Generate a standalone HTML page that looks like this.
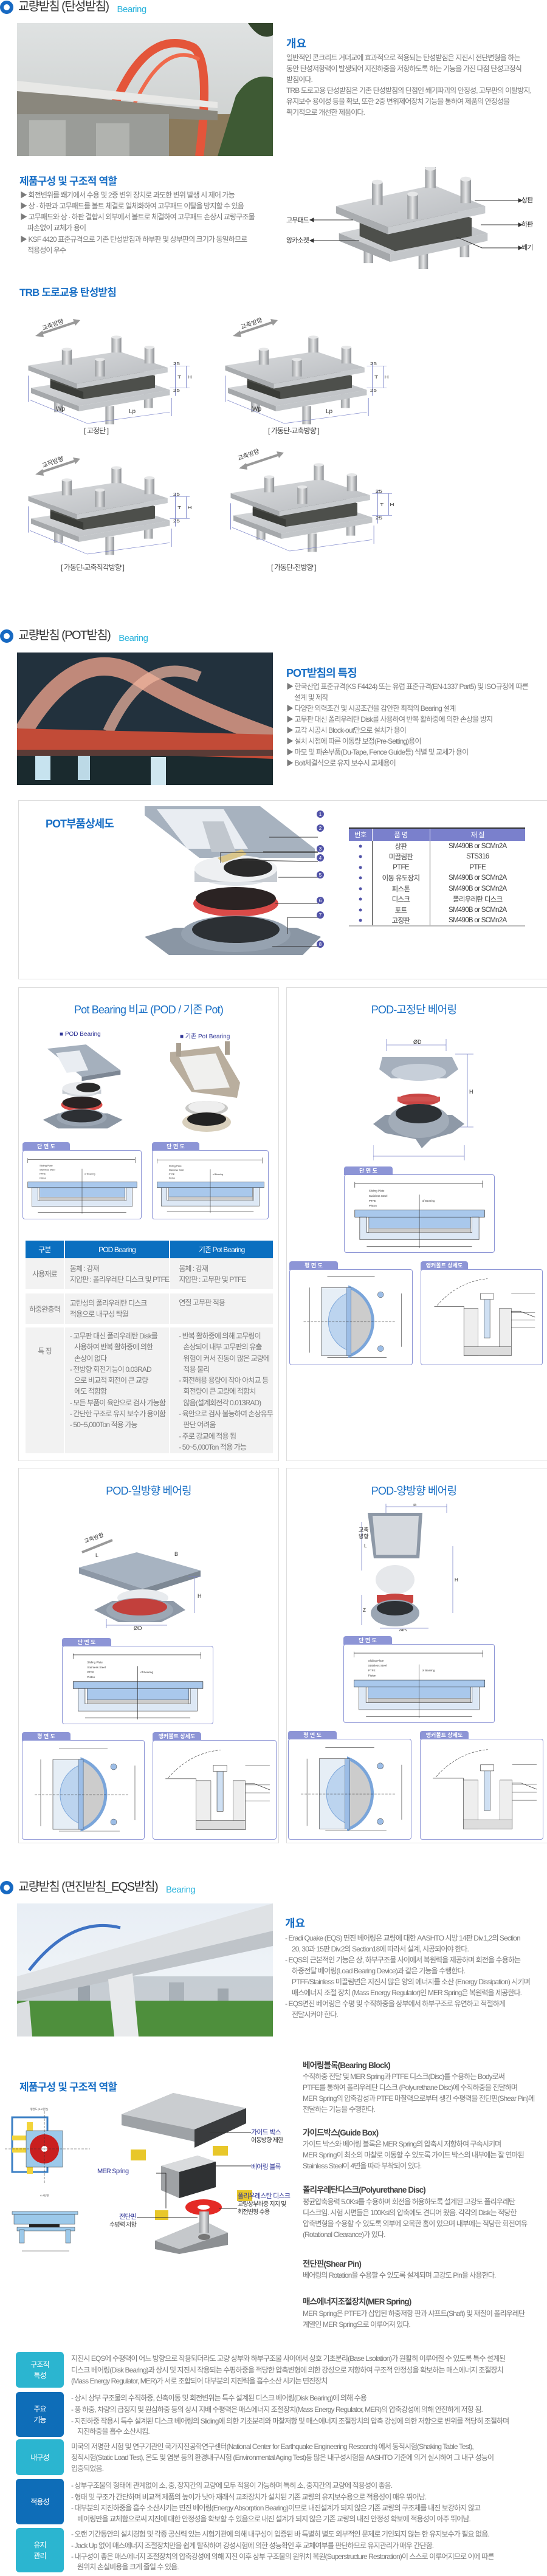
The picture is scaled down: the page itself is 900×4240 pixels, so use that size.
<!DOCTYPE html>
<html><head><meta charset="utf-8">
<style>
*{margin:0;padding:0;box-sizing:border-box}
html,body{width:900px;height:4240px;background:#fff;overflow:hidden;position:relative}
body{font-family:"Liberation Sans","Noto Sans CJK KR",sans-serif;color:#777}
.a{position:absolute;white-space:nowrap}
.t{font-size:12px;letter-spacing:-0.9px;color:#7a7a7a;line-height:14px}
.h1{font-size:20px;letter-spacing:-1.6px;color:#333;line-height:24px}
.bg{font-size:15px;color:#2ab3dc;letter-spacing:-0.5px;margin-left:14px;vertical-align:-3px}
.ico{width:22px;height:22px;border-radius:50%;border:6px solid #1769c2;background:#fff}
.h2{font-size:17px;font-weight:bold;color:#1a70c6;letter-spacing:-0.8px}
.h3{font-size:18px;color:#1a70c6;letter-spacing:-0.8px}
.h4{font-size:13.5px;color:#444;letter-spacing:-0.9px;font-weight:bold}
.box{position:absolute;border:1px solid #ddd;background:#fff}
.tab{position:absolute;height:14px;background:#8d95d6;color:#fff;font-size:9px;font-weight:bold;text-align:center;line-height:14px;border-radius:4px 4px 0 0;letter-spacing:0}
.dbox{position:absolute;border:1px solid #8d95d6;border-radius:4px;background:#fff}
.lab{position:absolute;font-size:12px;letter-spacing:-0.9px;color:#fff;text-align:center;border-radius:6px;display:flex;align-items:center;justify-content:center;line-height:18px}
table{border-collapse:collapse}
</style></head><body>
<svg width="0" height="0" style="position:absolute">
<defs>
<linearGradient id="plate" x1="0" y1="0" x2="1" y2="1"><stop offset="0" stop-color="#d9dbdd"/><stop offset="1" stop-color="#b8bbbf"/></linearGradient>
<linearGradient id="cyl" x1="0" y1="0" x2="1" y2="0"><stop offset="0" stop-color="#9a9da0"/><stop offset=".5" stop-color="#e4e5e6"/><stop offset="1" stop-color="#8d9094"/></linearGradient>
<symbol id="bear" viewBox="0 0 320 240">
<g>
<rect x="52" y="160" width="16" height="40" fill="url(#cyl)"/><rect x="145" y="185" width="16" height="45" fill="url(#cyl)"/><rect x="215" y="155" width="16" height="35" fill="url(#cyl)"/>
<polygon points="10,140 97,185 97,198 10,153" fill="#a5a8ab"/><polygon points="97,185 262,145 262,158 97,198" fill="#c3c6c9"/>
<polygon points="10,140 175,105 262,145 97,185" fill="url(#plate)"/>
<polygon points="45,108 175,80 235,110 235,140 105,168 45,140" fill="#4d4f4b"/>
<polygon points="45,140 105,168 105,150 45,122" fill="#3a3c38"/>
<polygon points="5,85 93,130 93,142 5,97" fill="#a9acaf"/><polygon points="93,130 258,90 258,102 93,142" fill="#c8cbce"/>
<polygon points="5,85 170,50 258,90 93,130" fill="url(#plate)"/>
<rect x="66" y="45" width="18" height="38" fill="url(#cyl)"/><ellipse cx="75" cy="45" rx="9" ry="4" fill="#e6e7e8"/>
<rect x="156" y="15" width="18" height="38" fill="url(#cyl)"/><ellipse cx="165" cy="15" rx="9" ry="4" fill="#e6e7e8"/>
<rect x="216" y="40" width="18" height="40" fill="url(#cyl)"/><ellipse cx="225" cy="40" rx="9" ry="4" fill="#e6e7e8"/>
<rect x="126" y="70" width="18" height="42" fill="url(#cyl)"/><ellipse cx="135" cy="70" rx="9" ry="4" fill="#e6e7e8"/>
</g>
<g stroke="#7b84c9" stroke-width="1" fill="none"><line x1="272" y1="78" x2="272" y2="160"/><line x1="292" y1="86" x2="292" y2="140"/><line x1="262" y1="86" x2="298" y2="86"/><line x1="262" y1="140" x2="298" y2="140"/><line x1="5" y1="110" x2="5" y2="175"/><line x1="265" y1="165" x2="265" y2="210"/><line x1="8" y1="170" x2="112" y2="228"/><line x1="112" y1="228" x2="262" y2="200"/></g>
<g font-size="11" fill="#333" font-family="Liberation Sans"><text x="268" y="84">25</text><text x="276" y="117">T</text><text x="294" y="117">H</text><text x="268" y="150">25</text></g>
</symbol>
<symbol id="bear2" viewBox="0 0 270 170">
<rect x="52" y="120" width="16" height="40" fill="url(#cyl)"/><rect x="145" y="135" width="16" height="35" fill="url(#cyl)"/><rect x="215" y="115" width="16" height="35" fill="url(#cyl)"/>
<polygon points="10,110 97,145 97,158 10,123" fill="#a5a8ab"/><polygon points="97,145 262,110 262,123 97,158" fill="#c3c6c9"/>
<polygon points="10,110 175,75 262,110 97,145" fill="url(#plate)"/>
<polygon points="45,88 175,60 235,85 235,115 105,140 45,115" fill="#4d4f4b"/>
<polygon points="5,65 93,100 93,112 5,77" fill="#a9acaf"/><polygon points="93,100 258,65 258,77 93,112" fill="#c8cbce"/>
<polygon points="5,65 170,30 258,65 93,100" fill="url(#plate)"/>
<rect x="66" y="25" width="18" height="38" fill="url(#cyl)"/><ellipse cx="75" cy="25" rx="9" ry="4" fill="#e6e7e8"/>
<rect x="156" y="0" width="18" height="35" fill="url(#cyl)"/><ellipse cx="165" cy="2" rx="9" ry="4" fill="#e6e7e8"/>
<rect x="216" y="20" width="18" height="40" fill="url(#cyl)"/><ellipse cx="225" cy="20" rx="9" ry="4" fill="#e6e7e8"/>
<rect x="126" y="45" width="18" height="42" fill="url(#cyl)"/><ellipse cx="135" cy="45" rx="9" ry="4" fill="#e6e7e8"/>
</symbol>
<symbol id="sect" viewBox="0 0 200 110">
<g stroke="#333" stroke-width=".6" fill="none"><line x1="8" y1="10" x2="8" y2="18"/><line x1="8" y1="12" x2="190" y2="12"/><line x1="190" y1="8" x2="190" y2="18"/><line x1="25" y1="102" x2="175" y2="102"/></g>
<rect x="8" y="50" width="185" height="10" fill="#a9c8ec" stroke="#333" stroke-width=".6"/>
<path d="M15 60 V92 H185 V60 H175 V82 H25 V60 Z" fill="#dde8f5" stroke="#333" stroke-width=".6"/>
<rect x="28" y="60" width="145" height="22" fill="#a9c8ec" stroke="#333" stroke-width=".5"/>
<rect x="28" y="76" width="145" height="6" fill="#ccc" stroke="#555" stroke-width=".3"/>
<line x1="100" y1="28" x2="100" y2="104" stroke="#333" stroke-width=".6"/>
<g font-size="4" fill="#333"><text x="28" y="24">Sliding Plate</text><text x="28" y="31">Stainless Steel</text><text x="28" y="38">PTFE</text><text x="28" y="45">Piston</text><text x="104" y="38">of Bearing</text></g>
</symbol>
<symbol id="plan" viewBox="0 0 200 160">
<g stroke="#333" stroke-width=".6" fill="none"><line x1="30" y1="30" x2="30" y2="140"/><line x1="185" y1="40" x2="185" y2="130"/><line x1="60" y1="148" x2="160" y2="148"/><line x1="60" y1="12" x2="140" y2="12"/></g>
<rect x="50" y="30" width="48" height="115" fill="#e6eef6" stroke="#333" stroke-width=".6"/>
<path d="M98 30 A62 62 0 0 1 98 145 Z" fill="#ccc" stroke="#7aa5da" stroke-width="5"/>
<path d="M98 38 A52 52 0 0 0 98 137 Z" fill="#bcd4ef" stroke="#7aa5da" stroke-width="1"/>
<rect x="92" y="30" width="8" height="115" fill="#9cbde6" stroke="#333" stroke-width=".4"/>
<circle cx="150" cy="42" r="5" fill="#9cbde6" stroke="#333" stroke-width=".5"/><circle cx="150" cy="133" r="5" fill="#9cbde6" stroke="#333" stroke-width=".5"/>
<line x1="20" y1="88" x2="175" y2="88" stroke="#333" stroke-width=".5" stroke-dasharray="4 2"/>
</symbol>
<symbol id="anch" viewBox="0 0 200 160">
<path d="M25 60 Q60 20 110 15" stroke="#333" stroke-width=".6" fill="none" stroke-dasharray="4 2"/>
<path d="M20 62 H70 V145 H150 V70 H165 L190 80" stroke="#333" stroke-width=".7" fill="none"/>
<rect x="70" y="65" width="24" height="80" fill="#eee" stroke="#333" stroke-width=".5"/><rect x="130" y="65" width="20" height="80" fill="#eee" stroke="#333" stroke-width=".5"/>
<rect x="70" y="130" width="80" height="15" fill="#ddd" stroke="#333" stroke-width=".5"/>
<rect x="104" y="45" width="10" height="70" fill="#cfe0f3" stroke="#333" stroke-width=".6"/>
<rect x="98" y="40" width="22" height="10" fill="#fff" stroke="#333" stroke-width=".6"/>
<g stroke="#333" stroke-width=".5"><line x1="150" y1="40" x2="190" y2="40"/><line x1="150" y1="72" x2="190" y2="72"/><line x1="150" y1="85" x2="190" y2="85"/><line x1="150" y1="98" x2="190" y2="98"/></g>
</symbol>
<symbol id="pot" viewBox="0 0 200 220">
<polygon points="20,20 110,10 190,70 100,85" fill="#a5b0bd"/><polygon points="100,85 190,70 190,80 100,95" fill="#7d8794"/>
<polygon points="40,30 95,24 115,70 65,76" fill="#e9edf2"/>
<ellipse cx="100" cy="115" rx="45" ry="17" fill="#d9dde2"/><rect x="55" y="115" width="90" height="10" fill="#c7ccd2"/><ellipse cx="100" cy="112" rx="45" ry="15" fill="#e9ebee"/><ellipse cx="115" cy="110" rx="28" ry="11" fill="#2b2b2b"/>
<ellipse cx="100" cy="150" rx="48" ry="16" fill="#d84b48"/><ellipse cx="100" cy="145" rx="45" ry="14" fill="#2a2222"/>
<polygon points="10,185 45,170 160,170 195,185 160,205 45,205" fill="#8c97a4"/><ellipse cx="100" cy="180" rx="58" ry="20" fill="#9aa5b2"/><ellipse cx="100" cy="176" rx="48" ry="15" fill="#2d3034"/>
</symbol>
</defs></svg>

<!-- ===== SECTION 1 ===== -->
<div class="a ico" style="left:0;top:1px"></div>
<div class="a h1" style="left:30px;top:-1px">교량받침 (탄성받침)<span class="bg">Bearing</span></div>
<svg class="a" style="left:28px;top:38px" width="421" height="219" viewBox="0 0 421 219">
<defs><linearGradient id="s1" x1="0" y1="0" x2="0" y2="1"><stop offset="0" stop-color="#dfe2e2"/><stop offset="1" stop-color="#c9cccb"/></linearGradient></defs>
<rect width="421" height="219" fill="url(#s1)"/>
<rect x="250" y="150" width="171" height="69" fill="#8b7a5c"/>
<path d="M330 219 L360 120 Q385 80 421 90 V219Z" fill="#3e5a34"/>
<path d="M380 0 Q400 30 421 20 V0Z" fill="#33452c"/>
<path d="M140 190 Q200 0 290 40 Q320 60 300 219" stroke="#e4553a" stroke-width="14" fill="none"/>
<path d="M170 190 Q230 20 300 60" stroke="#f06a4c" stroke-width="6" fill="none"/>
<polygon points="0,110 330,145 330,160 0,150" fill="#8a877d"/>
<rect x="0" y="150" width="250" height="69" fill="#9a9c98"/>
<rect x="20" y="160" width="60" height="59" fill="#b4b6b2"/><rect x="130" y="165" width="55" height="54" fill="#b1b3af"/>
<polygon points="0,95 330,130 330,140 0,112" fill="#e8e8e6"/>
</svg>
<div class="a" style="left:471px;top:58px;font-size:18px;font-weight:bold;color:#1a70c6">개요</div>
<div class="a t" style="left:471px;top:88px">일반적인 콘크리트 거더교에 효과적으로 적용되는 탄성받침은 지진시 전단변형을 하는</div>
<div class="a t" style="left:471px;top:106px">동안 탄성저항력이 발생되어 지진하중을 저항하도록 하는 기능을 가진 다점 탄성고정식</div>
<div class="a t" style="left:471px;top:124px">받침이다.</div>
<div class="a t" style="left:471px;top:142px">TRB 도로교용 탄성받침은 기존 탄성받침의 단점인 쐐기파괴의 안정성, 고무판의 이탈방지,</div>
<div class="a t" style="left:471px;top:160px">유지보수 용이성 등을 확보, 또한 2중 변위제어장치 기능을 통하여 제품의 안정성을</div>
<div class="a t" style="left:471px;top:178px">획기적으로 개선한 제품이다.</div>

<div class="a h2" style="left:32px;top:284px">제품구성 및 구조적 역할</div>
<div class="a t" style="left:33px;top:314px">▶ 회전변위를 쐐기에서 수용 및 2중 변위 장치로 과도한 변위 발생 시 제어 가능</div>
<div class="a t" style="left:33px;top:332px">▶ 상 · 하판과 고무패드를 볼트 체결로 일체화하여 고무패드 이탈을 방지할 수 있음</div>
<div class="a t" style="left:33px;top:350px">▶ 고무패드와 상 · 하판 결합시 외부에서 볼트로 체결하여 고무패드 손상시 교량구조물</div>
<div class="a t" style="left:45px;top:368px">파손없이 교체가 용이</div>
<div class="a t" style="left:33px;top:387px">▶ KSF 4420 표준규격으로 기존 탄성받침과 하부판 및 상부판의 크기가 동일하므로</div>
<div class="a t" style="left:45px;top:405px">적용성이 우수</div>
<svg class="a" style="left:548px;top:275px" width="262" height="168" viewBox="0 0 270 170" preserveAspectRatio="none"><use href="#bear2" xlink:href="#bear2"/></svg>
<svg class="a" style="left:471px;top:320px" width="429" height="95">
<g stroke="#333" stroke-width="1" fill="#333">
<line x1="310" y1="10" x2="382" y2="10"/><polygon points="382,7 388,10 382,13"/>
<line x1="320" y1="50" x2="382" y2="50"/><polygon points="382,47 388,50 382,53"/>
<line x1="280" y1="70" x2="322" y2="88"/><line x1="322" y1="88" x2="382" y2="88"/><polygon points="382,85 388,88 382,91"/>
<line x1="45" y1="42" x2="110" y2="42"/><polygon points="45,39 39,42 45,45"/>
<line x1="45" y1="76" x2="120" y2="76"/><polygon points="45,73 39,76 45,79"/>
</g></svg>
<div class="a t" style="left:858px;top:323px;color:#333;font-size:11px">상판</div>
<div class="a t" style="left:858px;top:363px;color:#333;font-size:11px">하판</div>
<div class="a t" style="left:858px;top:401px;color:#333;font-size:11px">쐐기</div>
<div class="a t" style="left:471px;top:356px;color:#333;font-size:11px">고무패드</div>
<div class="a t" style="left:471px;top:389px;color:#333;font-size:11px">앙카소켓</div>

<div class="a h2" style="left:32px;top:467px">TRB 도로교용 탄성받침</div>
<!-- row 1 -->
<svg class="a" style="left:42px;top:545px" width="290" height="160" viewBox="0 0 320 240" preserveAspectRatio="none"><use href="#bear" xlink:href="#bear"/></svg>
<svg class="a" style="left:366px;top:545px" width="290" height="160" viewBox="0 0 320 240" preserveAspectRatio="none"><use href="#bear" xlink:href="#bear"/></svg>
<svg class="a" style="left:40px;top:522px" width="100" height="35"><line x1="25" y1="28" x2="85" y2="8" stroke="#999" stroke-width="4"/><polygon points="18,31 30,22 32,33" fill="#999"/><polygon points="92,5 80,3 84,14" fill="#999"/></svg>
<svg class="a" style="left:365px;top:522px" width="100" height="35"><line x1="25" y1="28" x2="85" y2="8" stroke="#999" stroke-width="4"/><polygon points="18,31 30,22 32,33" fill="#999"/><polygon points="92,5 80,3 84,14" fill="#999"/></svg>
<div class="a" style="left:68px;top:526px;font-size:10px;color:#333;transform:rotate(-20deg)">교축방향</div>
<div class="a" style="left:395px;top:524px;font-size:10px;color:#333;transform:rotate(-20deg)">교축방향</div>
<div class="a" style="left:92px;top:668px;font-size:10px;color:#333">Wp</div><div class="a" style="left:212px;top:672px;font-size:10px;color:#333">Lp</div>
<div class="a" style="left:415px;top:668px;font-size:10px;color:#333">Wp</div><div class="a" style="left:536px;top:672px;font-size:10px;color:#333">Lp</div>
<div class="a t" style="left:138px;top:702px;color:#444">[ 고정단 ]</div>
<div class="a t" style="left:441px;top:702px;color:#444">[ 가동단-교축방향 ]</div>
<!-- row 2 -->
<svg class="a" style="left:42px;top:760px" width="290" height="160" viewBox="0 0 320 240" preserveAspectRatio="none"><use href="#bear" xlink:href="#bear"/></svg>
<svg class="a" style="left:375px;top:755px" width="290" height="160" viewBox="0 0 320 240" preserveAspectRatio="none"><use href="#bear" xlink:href="#bear"/></svg>
<svg class="a" style="left:40px;top:750px" width="100" height="35"><line x1="25" y1="28" x2="85" y2="8" stroke="#999" stroke-width="4"/><polygon points="18,31 30,22 32,33" fill="#999"/><polygon points="92,5 80,3 84,14" fill="#999"/></svg>
<svg class="a" style="left:375px;top:740px" width="100" height="35"><line x1="25" y1="28" x2="85" y2="8" stroke="#999" stroke-width="4"/><polygon points="18,31 30,22 32,33" fill="#999"/><polygon points="92,5 80,3 84,14" fill="#999"/></svg>
<div class="a" style="left:68px;top:752px;font-size:10px;color:#333;transform:rotate(-20deg)">교직방향</div>
<div class="a" style="left:390px;top:740px;font-size:10px;color:#333;transform:rotate(-20deg)">교축방향</div>
<div class="a t" style="left:100px;top:927px;color:#444">[ 가동단-교축직각방향 ]</div>
<div class="a t" style="left:446px;top:927px;color:#444">[ 가동단-전방향 ]</div>

<!-- ===== SECTION 2 ===== -->
<div class="a ico" style="left:0;top:1036px"></div>
<div class="a h1" style="left:30px;top:1034px">교량받침 (POT받침)<span class="bg">Bearing</span></div>
<svg class="a" style="left:28px;top:1074px" width="421" height="218" viewBox="0 0 421 218">
<rect width="421" height="218" fill="#22313d"/>
<rect y="150" width="421" height="68" fill="#1a2a2e"/>
<path d="M10 130 Q100 -20 200 40 Q280 90 421 140" stroke="#e9a08a" stroke-width="30" fill="none" opacity=".8"/>
<path d="M150 130 Q210 0 300 40" stroke="#f2b6a0" stroke-width="18" fill="none" opacity=".7"/>
<polygon points="0,125 421,135 421,175 0,160" fill="#c24b37"/>
<rect x="0" y="160" width="421" height="10" fill="#5a3b36"/>
<rect x="30" y="170" width="25" height="40" fill="#c7e3ef"/><rect x="100" y="170" width="20" height="40" fill="#bcd9e6"/><rect x="220" y="172" width="25" height="46" fill="#d0e7f0"/>
</svg>
<div class="a" style="left:471px;top:1094px;font-size:18px;font-weight:bold;color:#1a70c6;letter-spacing:-1px">POT받침의 특징</div>
<div class="a t" style="left:471px;top:1123px">▶ 한국산업 표준규격(KS F4424) 또는 유럽 표준규격(EN-1337 Part5) 및 ISO규정에 따른</div>
<div class="a t" style="left:484px;top:1141px">설계 및 제작</div>
<div class="a t" style="left:471px;top:1159px">▶ 다양한 외력조건 및 시공조건을 감안한 최적의 Bearing 설계</div>
<div class="a t" style="left:471px;top:1177px">▶ 고무판 대신 폴리우레탄 Disk를 사용하여 반복 활하중에 의한 손상을 방지</div>
<div class="a t" style="left:471px;top:1195px">▶ 교각 시공시 Block-out만으로 설치가 용이</div>
<div class="a t" style="left:471px;top:1213px">▶ 설치 시점에 따른 이동량 보정(Pre-Setting)용이</div>
<div class="a t" style="left:471px;top:1231px">▶ 마모 및 파손부품(Du-Tape, Fence Guide등) 식별 및 교체가 용이</div>
<div class="a t" style="left:471px;top:1249px">▶ Bolt체결식으로 유지 보수시 교체용이</div>

<div class="box" style="left:30px;top:1317px;width:880px;height:295px"></div>
<div class="a" style="left:75px;top:1342px;font-size:18px;font-weight:bold;color:#1a70c6;letter-spacing:-1px">POT부품상세도</div>
<svg class="a" style="left:238px;top:1322px" width="296" height="272" viewBox="0 0 296 272">
<polygon points="0,5 190,5 280,75 280,90 90,90 0,20" fill="#a7b2bf"/><polygon points="20,10 130,10 170,75 70,75" fill="#e9edf2"/><polygon points="95,30 130,30 150,80 110,80" fill="#c1c7ce"/>
<ellipse cx="150" cy="112" rx="68" ry="24" fill="#dfe3e8"/><rect x="82" y="112" width="136" height="18" fill="#c7ccd2"/><ellipse cx="150" cy="108" rx="68" ry="22" fill="#eef0f2"/><ellipse cx="170" cy="106" rx="40" ry="15" fill="#2a2a2a"/><polygon points="120,90 160,76 168,84 128,98" fill="#d9c58a"/>
<ellipse cx="150" cy="165" rx="70" ry="22" fill="#d94a48"/><ellipse cx="150" cy="157" rx="66" ry="19" fill="#2b2323"/>
<polygon points="0,220 50,205 250,205 290,220 260,250 40,250" fill="#8a96a4"/><ellipse cx="150" cy="215" rx="90" ry="30" fill="#96a2b0"/><ellipse cx="150" cy="208" rx="72" ry="22" fill="#2c3034"/>
<g stroke="#333" stroke-width="1"><line x1="205" y1="56" x2="285" y2="56"/><line x1="195" y1="80" x2="285" y2="80"/><line x1="125" y1="98" x2="125" y2="81"/><line x1="125" y1="81" x2="285" y2="81"/><line x1="160" y1="94" x2="285" y2="96"/><line x1="220" y1="122" x2="285" y2="122"/><line x1="215" y1="165" x2="285" y2="165"/><line x1="235" y1="188" x2="285" y2="188"/><line x1="235" y1="188" x2="235" y2="215"/><line x1="210" y1="236" x2="285" y2="236"/></g>
</svg>
<svg class="a" style="left:516px;top:1330px" width="20" height="270"><g fill="#5153a8">
<circle cx="11" cy="10" r="6"/><circle cx="11" cy="33" r="6"/><circle cx="11" cy="67" r="6"/><circle cx="11" cy="82" r="6"/><circle cx="11" cy="110" r="6"/><circle cx="11" cy="152" r="6"/><circle cx="11" cy="176" r="6"/><circle cx="11" cy="224" r="6"/></g>
<g fill="#fff" font-size="8" font-family="Liberation Sans" text-anchor="middle"><text x="11" y="13">1</text><text x="11" y="36">2</text><text x="11" y="70">3</text><text x="11" y="85">4</text><text x="11" y="113">5</text><text x="11" y="155">6</text><text x="11" y="179">7</text><text x="11" y="227">8</text></g></svg>
<table class="a" style="left:574px;top:1362px;width:290px;font-size:11.5px;letter-spacing:-0.7px;color:#444;text-align:center">
<tr style="background:#7a80cc;color:#fff;height:21px;border-top:2px solid #333"><td style="width:38px;border-right:1px solid #fff">번호</td><td style="width:95px;border-right:1px solid #fff">품 명</td><td>재 질</td></tr>
<tr style="height:17.5px"><td style="color:#5153a8;border-right:1px solid #333">●</td><td style="border-right:1px solid #333">상판</td><td>SM490B or SCMn2A</td></tr>
<tr style="height:17.5px"><td style="color:#5153a8;border-right:1px solid #333">●</td><td style="border-right:1px solid #333">미끌림판</td><td>STS316</td></tr>
<tr style="height:17.5px"><td style="color:#5153a8;border-right:1px solid #333">●</td><td style="border-right:1px solid #333">PTFE</td><td>PTFE</td></tr>
<tr style="height:17.5px"><td style="color:#5153a8;border-right:1px solid #333">●</td><td style="border-right:1px solid #333">이동 유도장치</td><td>SM490B or SCMn2A</td></tr>
<tr style="height:17.5px"><td style="color:#5153a8;border-right:1px solid #333">●</td><td style="border-right:1px solid #333">피스톤</td><td>SM490B or SCMn2A</td></tr>
<tr style="height:17.5px"><td style="color:#5153a8;border-right:1px solid #333">●</td><td style="border-right:1px solid #333">디스크</td><td>폴리우레탄 디스크</td></tr>
<tr style="height:17.5px"><td style="color:#5153a8;border-right:1px solid #333">●</td><td style="border-right:1px solid #333">포트</td><td>SM490B or SCMn2A</td></tr>
<tr style="height:17.5px;border-bottom:2px solid #bbb"><td style="color:#5153a8;border-right:1px solid #333">●</td><td style="border-right:1px solid #333">고정판</td><td>SM490B or SCMn2A</td></tr>
</table>

<!-- comparison box -->
<div class="box" style="left:30px;top:1625px;width:429px;height:780px"></div>
<div class="a h3" style="left:30px;width:429px;text-align:center;top:1648px">Pot Bearing 비교 (POD / 기존 Pot)</div>
<div class="a" style="left:98px;top:1697px;font-size:10px;color:#2f3596">■ POD Bearing</div>
<div class="a" style="left:296px;top:1697px;font-size:10px;color:#2f3596">■ 기존 Pot Bearing</div>
<svg class="a" style="left:62px;top:1712px" width="145" height="156"><use href="#pot" xlink:href="#pot" width="145" height="156"/></svg>
<svg class="a" style="left:270px;top:1712px" width="130" height="156" viewBox="0 0 130 156">
<polygon points="10,20 90,10 125,70 120,95 45,85 10,35" fill="#b9ae9e"/><polygon points="25,28 85,22 108,78 50,82" fill="#f0f0ee"/>
<rect x="20" y="5" width="8" height="22" fill="#a99f90"/><rect x="100" y="2" width="8" height="22" fill="#a99f90"/>
<ellipse cx="70" cy="112" rx="35" ry="12" fill="#c8c8c6"/><ellipse cx="70" cy="110" rx="30" ry="10" fill="#eee"/>
<ellipse cx="70" cy="135" rx="40" ry="16" fill="#d8cfbc"/><ellipse cx="70" cy="130" rx="32" ry="11" fill="#222"/>
</svg>
<div class="tab" style="left:37px;top:1880px;width:78px">단 면 도</div>
<div class="dbox" style="left:37px;top:1893px;width:196px;height:114px"><svg width="194" height="112"><use href="#sect" xlink:href="#sect" width="194" height="112"/></svg></div>
<div class="tab" style="left:250px;top:1880px;width:78px">단 면 도</div>
<div class="dbox" style="left:250px;top:1893px;width:192px;height:114px"><svg width="190" height="112"><use href="#sect" xlink:href="#sect" width="190" height="112"/></svg></div>

<table class="a" style="left:40px;top:2042px;width:411px;font-size:12px;letter-spacing:-0.9px;color:#7a7a7a;border-collapse:separate;border-spacing:2px 0">
<tr style="background:#0a6fc0;color:#fff;height:29px;text-align:center"><td style="width:68px">구분</td><td style="width:170px">POD Bearing</td><td>기존 Pot Bearing</td></tr>
<tr style="background:#f2f2f2;height:51px"><td style="text-align:center">사용재료</td><td style="padding-left:8px;line-height:18px">몸체 : 강재<br>지압판 : 폴리우레탄 디스크 및 PTFE</td><td style="padding-left:14px;line-height:18px">몸체 : 강재<br>지압판 : 고무판 및 PTFE</td></tr>
<tr style="height:7px"><td></td><td></td><td></td></tr>
<tr style="background:#f2f2f2;height:50px"><td style="text-align:center">하중완충력</td><td style="padding-left:8px;line-height:18px">고탄성의 폴리우레탄 디스크<br>적용으로 내구성 탁월</td><td style="padding-left:14px;line-height:18px;vertical-align:top;padding-top:6px">연질 고무판 적용</td></tr>
<tr style="height:6px"><td></td><td></td><td></td></tr>
<tr style="background:#f2f2f2;height:207px;vertical-align:top"><td style="text-align:center;padding-top:30px">특 징</td>
<td style="padding-left:8px;padding-top:5px;line-height:18.3px">- 고무판 대신 폴리우레탄 Disk를<br>&nbsp;&nbsp;&nbsp;사용하여 반복 활하중에 의한<br>&nbsp;&nbsp;&nbsp;손상이 없다<br>- 전방향 회전기능이 0.03RAD<br>&nbsp;&nbsp;&nbsp;으로 비교적 회전이 큰 교량<br>&nbsp;&nbsp;&nbsp;에도 적합함<br>- 모든 부품이 육안으로 검사 가능함<br>- 간단한 구조로 유지 보수가 용이함<br>- 50~5,000Ton 적용 가능</td>
<td style="padding-left:14px;padding-top:5px;line-height:18.3px">- 반복 활하중에 의해 고무링이<br>&nbsp;&nbsp;&nbsp;손상되어 내부 고무판의 유출<br>&nbsp;&nbsp;&nbsp;위험이 커서 진동이 많은 교량에<br>&nbsp;&nbsp;&nbsp;적용 불리<br>- 회전허용 용량이 작아 아치교 등<br>&nbsp;&nbsp;&nbsp;회전량이 큰 교량에 적합치<br>&nbsp;&nbsp;&nbsp;않음(설계회전각 0.013RAD)<br>- 육안으로 검사 불능하여 손상유무<br>&nbsp;&nbsp;&nbsp;판단 어려움<br>- 주로 강교에 적용 됨<br>- 50~5,000Ton 적용 가능</td></tr>
</table>

<!-- POD fixed -->
<div class="box" style="left:471px;top:1625px;width:440px;height:780px"></div>
<div class="a h3" style="left:471px;width:420px;text-align:center;top:1648px">POD-고정단 베어링</div>
<svg class="a" style="left:614px;top:1705px" width="170" height="205" viewBox="0 0 170 205">
<g stroke="#7b84c9" stroke-width=".8" fill="none"><line x1="22" y1="5" x2="22" y2="25"/><line x1="120" y1="5" x2="120" y2="25"/><line x1="22" y1="15" x2="120" y2="15"/><line x1="135" y1="30" x2="165" y2="30"/><line x1="155" y1="30" x2="155" y2="150"/><line x1="135" y1="150" x2="165" y2="150"/><line x1="0" y1="180" x2="0" y2="205"/><line x1="150" y1="180" x2="150" y2="205"/><line x1="0" y1="198" x2="150" y2="198"/></g>
<text x="66" y="13" font-size="9" fill="#333">ØD</text><text x="158" y="95" font-size="9" fill="#333">H</text><text x="72" y="212" font-size="9" fill="#333">Z</text>
<polygon points="15,35 130,35 140,55 120,70 30,70 10,55" fill="#a6b0bd"/><ellipse cx="75" cy="60" rx="45" ry="14" fill="#c7cfd9"/>
<ellipse cx="75" cy="105" rx="35" ry="10" fill="#c94544"/><rect x="40" y="100" width="70" height="8" fill="#d05250"/>
<polygon points="0,145 20,130 130,130 150,145 130,160 95,170 80,185 70,170 20,160" fill="#8e99a7"/><ellipse cx="75" cy="140" rx="50" ry="28" fill="#a2acb8"/><ellipse cx="75" cy="128" rx="38" ry="16" fill="#2c3034"/>
</svg>
<div class="tab" style="left:566px;top:1920px;width:80px">단 면 도</div>
<div class="dbox" style="left:566px;top:1933px;width:248px;height:129px"><svg width="246" height="127"><use href="#sect" xlink:href="#sect" width="246" height="127"/></svg></div>
<div class="tab" style="left:476px;top:2076px;width:80px">평 면 도</div>
<div class="dbox" style="left:476px;top:2089px;width:203px;height:158px"><svg width="201" height="156"><use href="#plan" xlink:href="#plan" width="201" height="156"/></svg></div>
<div class="tab" style="left:692px;top:2076px;width:78px">앵커볼트 상세도</div>
<div class="dbox" style="left:692px;top:2089px;width:201px;height:158px"><svg width="199" height="156"><use href="#anch" xlink:href="#anch" width="199" height="156"/></svg></div>

<!-- POD one-way -->
<div class="box" style="left:30px;top:2416px;width:429px;height:618px"></div>
<div class="a h3" style="left:30px;width:429px;text-align:center;top:2440px">POD-일방향 베어링</div>
<svg class="a" style="left:115px;top:2495px" width="235" height="190" viewBox="0 0 235 190">
<line x1="20" y1="60" x2="70" y2="40" stroke="#999" stroke-width="4"/>
<text x="25" y="45" font-size="9" fill="#333" transform="rotate(-20 25 45)">교축방향</text>
<polygon points="15,85 110,60 215,90 120,120" fill="#a7b3c1"/><polygon points="15,85 120,120 120,130 15,95" fill="#8d98a6"/><polygon points="120,120 215,90 215,100 120,130" fill="#7d8894"/>
<ellipse cx="120" cy="135" rx="42" ry="14" fill="#e8ebee"/>
<polygon points="40,155 70,140 170,140 190,155 150,175 80,175" fill="#8e99a7"/><ellipse cx="115" cy="155" rx="55" ry="20" fill="#9ca7b4"/><ellipse cx="115" cy="150" rx="45" ry="14" fill="#c2403c"/>
<g stroke="#7b84c9" stroke-width=".8" fill="none"><line x1="195" y1="100" x2="215" y2="100"/><line x1="205" y1="100" x2="205" y2="160"/><line x1="60" y1="170" x2="60" y2="185"/><line x1="60" y1="180" x2="160" y2="180"/></g>
<text x="42" y="68" font-size="9" fill="#333">L</text><text x="172" y="66" font-size="9" fill="#333">B</text><text x="210" y="135" font-size="9" fill="#333">H</text><text x="105" y="188" font-size="9" fill="#333">ØD</text>
</svg>
<div class="tab" style="left:102px;top:2696px;width:81px">단 면 도</div>
<div class="dbox" style="left:102px;top:2709px;width:249px;height:129px"><svg width="247" height="127"><use href="#sect" xlink:href="#sect" width="247" height="127"/></svg></div>
<div class="tab" style="left:36px;top:2851px;width:80px">평 면 도</div>
<div class="dbox" style="left:36px;top:2864px;width:202px;height:164px"><svg width="200" height="162"><use href="#plan" xlink:href="#plan" width="200" height="162"/></svg></div>
<div class="tab" style="left:251px;top:2851px;width:80px">앵커볼트 상세도</div>
<div class="dbox" style="left:251px;top:2864px;width:204px;height:164px"><svg width="202" height="162"><use href="#anch" xlink:href="#anch" width="202" height="162"/></svg></div>

<!-- POD two-way -->
<div class="box" style="left:471px;top:2416px;width:440px;height:618px"></div>
<div class="a h3" style="left:471px;width:420px;text-align:center;top:2440px">POD-양방향 베어링</div>
<svg class="a" style="left:585px;top:2475px" width="180" height="210" viewBox="0 0 180 210">
<g stroke="#7b84c9" stroke-width=".8" fill="none"><line x1="50" y1="5" x2="150" y2="5"/><line x1="50" y1="0" x2="50" y2="15"/><line x1="150" y1="0" x2="150" y2="15"/><line x1="10" y1="30" x2="10" y2="110"/><line x1="160" y1="70" x2="160" y2="180"/><line x1="10" y1="150" x2="10" y2="200"/><line x1="40" y1="205" x2="120" y2="205"/></g>
<text x="95" y="4" font-size="8" fill="#333">B</text><text x="14" y="72" font-size="8" fill="#333">L</text><text x="163" y="128" font-size="8" fill="#333">H</text><text x="12" y="178" font-size="8" fill="#333">Z</text><text x="72" y="212" font-size="8" fill="#333">ØD</text>
<polygon points="20,15 110,15 105,90 30,90" fill="#8e99a7"/><polygon points="28,20 104,20 100,84 34,84" fill="#d5d9de"/>
<ellipse cx="65" cy="125" rx="32" ry="24" fill="#e6e8eb"/>
<ellipse cx="65" cy="160" rx="30" ry="12" fill="#c84440"/><rect x="35" y="150" width="60" height="12" fill="#c84440"/>
<ellipse cx="65" cy="180" rx="40" ry="22" fill="#9aa5b3"/><ellipse cx="65" cy="172" rx="30" ry="12" fill="#2c3034"/>
</svg>
<div class="a" style="left:590px;top:2513px;font-size:9px;color:#333;line-height:11px">교축<br>방향</div>
<div class="tab" style="left:565px;top:2693px;width:80px">단 면 도</div>
<div class="dbox" style="left:565px;top:2706px;width:249px;height:130px"><svg width="247" height="128"><use href="#sect" xlink:href="#sect" width="247" height="128"/></svg></div>
<div class="tab" style="left:474px;top:2849px;width:80px">평 면 도</div>
<div class="dbox" style="left:474px;top:2862px;width:203px;height:166px"><svg width="201" height="164"><use href="#plan" xlink:href="#plan" width="201" height="164"/></svg></div>
<div class="tab" style="left:691px;top:2849px;width:80px">앵커볼트 상세도</div>
<div class="dbox" style="left:691px;top:2862px;width:203px;height:166px"><svg width="201" height="164"><use href="#anch" xlink:href="#anch" width="201" height="164"/></svg></div>

<!-- ===== SECTION 3 ===== -->
<div class="a ico" style="left:0;top:3096px"></div>
<div class="a h1" style="left:30px;top:3094px">교량받침 (면진받침_EQS받침)<span class="bg">Bearing</span></div>
<svg class="a" style="left:28px;top:3133px" width="421" height="219" viewBox="0 0 421 219">
<defs><linearGradient id="s3" x1="0" y1="0" x2="0" y2="1"><stop offset="0" stop-color="#e8eef5"/><stop offset="1" stop-color="#f4f7f9"/></linearGradient></defs>
<rect width="421" height="219" fill="url(#s3)"/>
<rect y="120" width="421" height="45" fill="#b5bcc3" opacity=".7"/>
<rect x="100" y="135" width="20" height="30" fill="#9aa3ab"/><rect x="250" y="130" width="25" height="35" fill="#aab2b9"/><rect x="330" y="140" width="18" height="25" fill="#a0a8af"/>
<rect y="160" width="421" height="59" fill="#4e8f3c"/>
<path d="M20 110 Q90 20 170 40" stroke="#3f73c4" stroke-width="5" fill="none"/>
<polygon points="0,120 421,0 421,45 0,145" fill="#dfe2e5"/><polygon points="0,145 421,45 421,70 0,160" fill="#bfc4c9"/>
<polygon points="150,125 190,115 200,219 160,219" fill="#e8eaec"/><polygon points="0,165 20,160 25,219 0,219" fill="#dcdfe2"/>
</svg>
<div class="a" style="left:469px;top:3152px;font-size:18px;font-weight:bold;color:#1a70c6">개요</div>
<div class="a t" style="left:469px;top:3183px">- Eradi Quake (EQS) 면진 베어링은 교량에 대한 AASHTO 시방 14판 Div.1,2의 Section</div>
<div class="a t" style="left:480px;top:3201px">20, 30과 15판 Div.2의 Section18에 따라서 설계, 시공되어야 한다.</div>
<div class="a t" style="left:469px;top:3219px">- EQS의 근본적인 기능은 상, 하부구조물 사이에서 복원력을 제공하며 회전을 수용하는</div>
<div class="a t" style="left:480px;top:3237px">하중전달 베어링(Load Bearing Device)과 같은 기능을 수행한다.</div>
<div class="a t" style="left:480px;top:3255px">PTFF/Stainless 미끌림면은 지진시 많은 양의 에너지를 소산 (Energy Dissipation) 시키며</div>
<div class="a t" style="left:480px;top:3273px">매스에너지 조절 장치 (Mass Energy Regulator)인 MER Spring은 복원력을 제공한다.</div>
<div class="a t" style="left:469px;top:3291px">- EQS면진 베어링은 수평 및 수직하중을 상부에서 하부구조로 유연하고 적절하게</div>
<div class="a t" style="left:480px;top:3309px">전달시켜야 한다.</div>

<div class="a h2" style="left:32px;top:3421px">제품구성 및 구조적 역할</div>
<svg class="a" style="left:8px;top:3465px" width="140" height="250" viewBox="0 0 140 250">
<text x="42" y="8" font-size="4" fill="#333">평면도 (D-C단면)</text>
<path d="M12 20 H70 V110 H12 Z" fill="none" stroke="#3b7fc4" stroke-width="3"/>
<rect x="36" y="28" width="10" height="85" fill="#f2d43a"/><rect x="12" y="50" width="25" height="8" fill="#f2d43a"/><rect x="12" y="70" width="25" height="8" fill="#f2d43a"/>
<rect x="35" y="42" width="60" height="60" fill="#9cc9ea" stroke="#333" stroke-width=".5"/>
<circle cx="65" cy="72" r="24" fill="#c91f1f"/><circle cx="65" cy="72" r="5" fill="#fff"/>
<line x1="0" y1="72" x2="140" y2="72" stroke="#333" stroke-width=".6" stroke-dasharray="4 2"/><line x1="65" y1="10" x2="65" y2="130" stroke="#333" stroke-width=".6" stroke-dasharray="4 2"/>
<text x="58" y="150" font-size="4" fill="#333">A-A단면</text>
<rect x="12" y="175" width="108" height="5" fill="#9cc9ea" stroke="#333" stroke-width=".5"/>
<rect x="15" y="180" width="100" height="16" fill="#9cc9ea" stroke="#333" stroke-width=".5"/>
<rect x="40" y="196" width="50" height="5" fill="#222"/>
<rect x="20" y="201" width="95" height="6" fill="#9cc9ea" stroke="#333" stroke-width=".5"/>
<rect x="24" y="205" width="8" height="22" fill="#9cc9ea" stroke="#333" stroke-width=".5"/><rect x="100" y="205" width="8" height="22" fill="#9cc9ea" stroke="#333" stroke-width=".5"/>
<line x1="28" y1="240" x2="106" y2="240" stroke="#333" stroke-width=".5"/>
</svg>
<svg class="a" style="left:185px;top:3440px" width="290" height="270" viewBox="0 0 290 270">
<polygon points="15,40 100,5 220,30 220,45 135,85 15,58" fill="#9ea2a6"/><polygon points="15,40 100,5 220,30 135,65" fill="#cacdd0"/><polygon points="135,65 220,30 220,55 135,95" fill="#3a3c3e"/>
<polygon points="80,125 140,108 170,118 170,160 110,178 80,165" fill="#9fa2a5"/><polygon points="80,125 140,108 170,118 110,135" fill="#d9dbdd"/><polygon points="110,135 170,118 170,160 110,178" fill="#2f3133"/>
<rect x="30" y="98" width="25" height="18" fill="#e8c72a"/><rect x="165" y="92" width="25" height="16" fill="#e8c72a"/><rect x="70" y="198" width="22" height="16" fill="#e8c72a"/><rect x="205" y="165" width="25" height="18" fill="#e8c72a"/>
<ellipse cx="150" cy="193" rx="30" ry="13" fill="#e42a25"/><ellipse cx="150" cy="193" rx="10" ry="4" fill="#fff"/>
<polygon points="70,248 150,215 190,235 190,255 110,270 70,262" fill="#8d9093"/><polygon points="70,248 150,215 190,235 110,262" fill="#c5c8cb"/>
<rect x="143" y="200" width="16" height="35" fill="url(#cyl)"/><ellipse cx="151" cy="242" rx="10" ry="5" fill="#777"/>
<g stroke="#333" stroke-width="1"><line x1="160" y1="70" x2="228" y2="70"/><line x1="170" y1="125" x2="228" y2="125"/><line x1="175" y1="195" x2="205" y2="195"/><line x1="72" y1="137" x2="88" y2="137"/><line x1="88" y1="137" x2="88" y2="195"/><line x1="40" y1="210" x2="140" y2="210"/></g>
</svg>
<div class="a" style="left:413px;top:3504px;font-size:11px;color:#2f3596;letter-spacing:-0.8px;line-height:13px">가이드 박스<br><span style="color:#333;font-size:10px">이동방향 제한</span></div>
<div class="a" style="left:413px;top:3558px;font-size:11px;color:#2f3596;letter-spacing:-0.8px">베어링 블록</div>
<div class="a" style="left:160px;top:3568px;font-size:11px;color:#2f3596;letter-spacing:-0.8px">MER Spring</div>
<div class="a" style="left:391px;top:3609px;font-size:11px;color:#2f3596;letter-spacing:-0.8px;line-height:13px">폴리우레스탄 디스크<br><span style="color:#333;font-size:10px">교량상부하중 지지 및<br>회전변형 수용</span></div>
<div class="a" style="left:180px;top:3643px;font-size:11px;color:#2f3596;letter-spacing:-0.8px;line-height:13px;text-align:right">&nbsp;&nbsp;&nbsp;&nbsp;전단핀<br><span style="color:#333;font-size:10px">수평력 저항</span></div>

<div class="a h4" style="left:498px;top:3388px">베어링블록(Bearing Block)</div>
<div class="a t" style="left:498px;top:3411px">수직하중 전달 및 MER Spring과 PTFE 디스크(Disc)를 수용하는 Body로써</div>
<div class="a t" style="left:498px;top:3429px">PTFE를 통하여 폴리우레탄 디스크 (Polyurethane Disc)에 수직하중을 전달하며</div>
<div class="a t" style="left:498px;top:3447px">MER Spring의 압축강성과 PTFE 마찰력으로부터 생긴 수평력을 전단핀(Shear Pin)에</div>
<div class="a t" style="left:498px;top:3465px">전달하는 기능을 수행한다.</div>
<div class="a h4" style="left:498px;top:3499px">가이드박스(Guide Box)</div>
<div class="a t" style="left:498px;top:3522px">가이드 박스와 베어링 블록은 MER Spring의 압축시 저항하여 구속시키며</div>
<div class="a t" style="left:498px;top:3540px">MER Spring이 최소의 마찰로 이동할 수 있도록 가이드 박스의 내부에는 잘 연마된</div>
<div class="a t" style="left:498px;top:3558px">Stainless Steel이 4면을 따라 부착되어 있다.</div>
<div class="a h4" style="left:498px;top:3593px">폴리우레탄디스크(Polyurethane Disc)</div>
<div class="a t" style="left:498px;top:3617px">평균압축응력 5.0Ksi를 수용하며 회전을 허용하도록 설계된 고강도 폴리우레탄</div>
<div class="a t" style="left:498px;top:3635px">디스크임. 시험 시편들은 100Ksi의 압축에도 견디어 왔음. 각각의 Disk는 적당한</div>
<div class="a t" style="left:498px;top:3653px">압축변형을 수용할 수 있도록 외부에 오목한 홈이 있으며 내부에는 적당한 회전여유</div>
<div class="a t" style="left:498px;top:3671px">(Rotational Clearance)가 있다.</div>
<div class="a h4" style="left:498px;top:3715px">전단핀(Shear Pin)</div>
<div class="a t" style="left:498px;top:3738px">베어링의 Rotation을 수용할 수 있도록 설계되며 고강도 Pin을 사용한다.</div>
<div class="a h4" style="left:498px;top:3777px">매스에너지조절장치(MER Spring)</div>
<div class="a t" style="left:498px;top:3801px">MER Spring은 PTFE가 삽입된 하중저항 판과 샤프트(Shaft) 및 재질이 폴리우레탄</div>
<div class="a t" style="left:498px;top:3819px">계열인 MER Spring으로 이루어져 있다.</div>

<!-- bottom rows -->
<div class="lab" style="left:26px;top:3871px;width:79px;height:59px;background:#2bb5d0">구조적<br>특성</div>
<div class="a t" style="left:117px;top:3875px">지진시 EQS에 수평력이 어느 방향으로 작용되더라도 교량 상부와 하부구조물 사이에서 상호 기초분리(Base Lsolation)가 원활히 이루어질 수 있도록 특수 설계된</div>
<div class="a t" style="left:117px;top:3894px">디스크 베어링(Disk Bearing)과 상시 및 지진시 작용되는 수평하중을 적당한 압축변형에 의한 강성으로 저항하여 구조적 안정성을 확보하는 매스에너지 조절장치</div>
<div class="a t" style="left:117px;top:3912px">(Mass Energy Regulator, MER)가 서로 조합되어 대부분의 지진력을 흡수소산 시키는 면진장치</div>
<div class="lab" style="left:26px;top:3937px;width:79px;height:74px;background:#0e6db8">주요<br>기능</div>
<div class="a t" style="left:117px;top:3940px">- 상시 상부 구조물의 수직하중, 신축이동 및 회전변위는 특수 설계된 디스크 베어링(Disk Bearing)에 의해 수용</div>
<div class="a t" style="left:117px;top:3959px">- 풍 하중, 차량의 급정지 및 원심하중 등의 상시 지배 수평력은 매스에너지 조절장치(Mass Energy Regulator, MER)의 압축강성에 의해 안전하게 저항 됨.</div>
<div class="a t" style="left:117px;top:3978px">- 지진하중 작용시 특수 설계된 디스크 베어링의 Sliding에 의한 기초분리와 마찰저항 및 매스에너지 조절장치의 압축 강성에 의한 저항으로 변위를 적당히 조절하며</div>
<div class="a t" style="left:127px;top:3995px">지진하중을 흡수 소산시킴.</div>
<div class="lab" style="left:26px;top:4015px;width:79px;height:59px;background:#2bb5d0">내구성</div>
<div class="a t" style="left:117px;top:4020px">미국의 저명한 시험 및 연구기관인 국가지진공학연구센터(National Center for Earthquake Engineering Research) 에서 동적시험(Shaking Table Test),</div>
<div class="a t" style="left:117px;top:4038px">정적시험(Static Load Test), 온도 및 염분 등의 환경내구시험 (Environmental Aging Test)등 많은 내구성시험을 AASHTO 기준에 의거 실시하여 그 내구 성능이</div>
<div class="a t" style="left:117px;top:4056px">입증되었음.</div>
<div class="lab" style="left:26px;top:4080px;width:79px;height:75px;background:#0e6db8">적용성</div>
<div class="a t" style="left:117px;top:4084px">- 상부구조물의 형태에 관계없이 소, 중, 장지간의 교량에 모두 적용이 가능하며 특히 소, 중지간의 교량에 적용성이 좋음.</div>
<div class="a t" style="left:117px;top:4103px">- 형태 및 구조가 간단하며 비교적 제품의 높이가 낮아 재래식 교좌장치가 설치된 기존 교량의 유지보수용으로 적용성이 매우 뛰어남.</div>
<div class="a t" style="left:117px;top:4121px">- 대부분의 지진하중을 흡수 소산시키는 면진 베어링(Energy Absorption Bearing)이므로 내진설계가 되지 않은 기존 교량의 구조체를 내진 보강하지 않고</div>
<div class="a t" style="left:127px;top:4139px">베어링만을 교체함으로써 지진에 대한 안정성을 확보할 수 있음으로 내진 설계가 되지 않은 기존 교량의 내진 안정성 확보에 적용성이 아주 뛰어남.</div>
<div class="lab" style="left:26px;top:4161px;width:79px;height:73px;background:#2bb5d0">유지<br>관리</div>
<div class="a t" style="left:117px;top:4164px">- 오랜 기간동안의 설치경험 및 각종 공신력 있는 시험기관에 의해 내구성이 입증된 바 특별히 별도 외부적인 문제로 기인되지 않는 한 유지보수가 필요 없음.</div>
<div class="a t" style="left:117px;top:4183px">- Jack Up 없이 매스에너지 조절장치만을 쉽게 탈착하여 강성시험에 의한 성능확인 후 교체여부를 판단하므로 유지관리가 매우 간단함.</div>
<div class="a t" style="left:117px;top:4201px">- 내구성이 좋은 매스에너지 조절장치의 압축강성에 의해 지진 이후 상부 구조물의 원위치 복원(Superstructure Restoration)이 스스로 이루어지므로 이에 따른</div>
<div class="a t" style="left:127px;top:4218px">원위치 손실비용을 크게 줄일 수 있음.</div>
</body></html>
